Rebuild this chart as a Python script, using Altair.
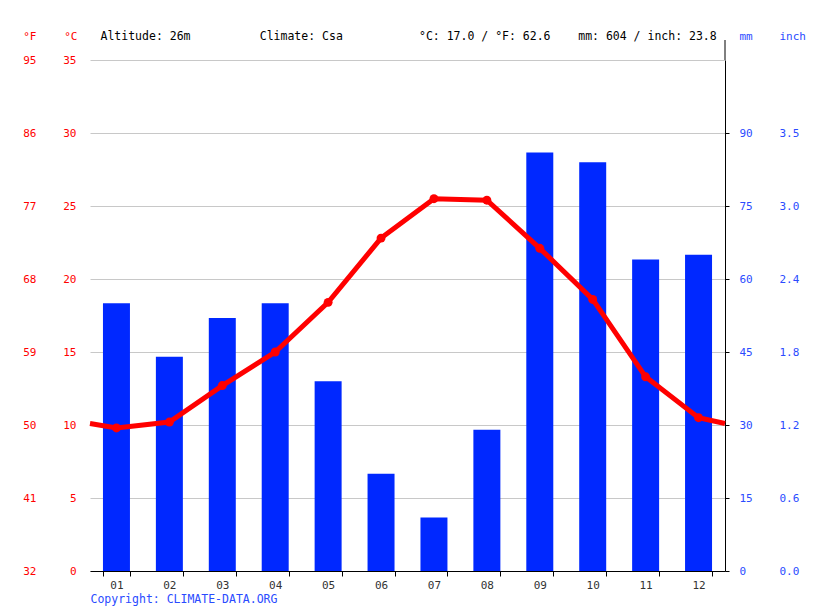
import altair as alt
import pandas as pd

# values
months = ["01", "02", "03", "04", "05", "06", "07", "08", "09", "10", "11", "12"]
temp_c = [9.8, 10.2, 12.7, 15.0, 18.4, 22.8, 25.5, 25.4, 22.1, 18.6, 13.3, 10.5]
precip_mm = [55, 44, 52, 55, 39, 20, 11, 29, 86, 84, 64, 65]
edge_temp = 10.1  # where the line meets the left and right plot edges

c_ticks = [0, 5, 10, 15, 20, 25, 30, 35]
f_labels = ["32", "41", "50", "59", "68", "77", "86", "95"]
mm_ticks = [0, 15, 30, 45, 60, 75, 90]
inch_labels = ["0.0", "0.6", "1.2", "1.8", "2.4", "3.0", "3.5"]

header_items = ["Altitude: 26m", "Climate: Csa", "°C: 17.0 / °F: 62.6", "mm: 604 / inch: 23.8"]

RED = "#ff0000"
BLUE = "#0028ff"
LABEL_BLUE = "#2a4bff"
FONT = "DejaVu Sans Mono"


def label_map(values, labels):
    vals = ",".join(str(v) for v in values)
    labs = ",".join("'" + s + "'" for s in labels)
    return f"[{labs}][indexof([{vals}], datum.value)]"


bars_df = pd.DataFrame({"month": months, "precip": precip_mm})
pos = [i + 1 for i in range(len(months))]
line_df = pd.DataFrame({
    "pos": [0.5] + pos + [len(months) + 0.5],
    "temp": [edge_temp] + temp_c + [edge_temp],
})
points_df = pd.DataFrame({"pos": pos, "temp": temp_c})

x_band = alt.Scale(paddingInner=0.49, paddingOuter=0.245)
x_lin = alt.Scale(domain=[0.5, len(months) + 0.5], nice=False, zero=False)
mm_scale = alt.Scale(domain=[0, 105], nice=False)
c_scale = alt.Scale(domain=[0, 35], nice=False)

# header line: four fixed-width fields in a monospace font
sep = "\u00a0"
header = "".join(s.ljust(23).replace(" ", sep) for s in header_items).rstrip(sep)

bars = alt.Chart(bars_df).mark_bar(color=BLUE).encode(
    x=alt.X(
        "month:O",
        scale=x_band,
        axis=alt.Axis(
            title="Copyright: CLIMATE-DATA.ORG",
            titleColor=LABEL_BLUE, titleFont=FONT, titleFontSize=11.5, titleFontWeight="normal",
            titleX=0, titleY=28, titleAlign="left", titleBaseline="middle",
            labelAngle=0, labelColor="#333333", labelFont=FONT, labelFontSize=11,
            labelPadding=3, tickBand="extent", tickSize=5, tickColor="black",
            domainColor="black", grid=False,
        ),
    ),
    y=alt.Y(
        "precip:Q",
        scale=mm_scale,
        axis=alt.Axis(
            orient="right", values=mm_ticks, grid=False,
            title="mm", titleColor=LABEL_BLUE, titleFont=FONT, titleFontSize=11,
            titleFontWeight="normal", titleAngle=0, titleX=14, titleY=-24,
            titleAlign="left", titleBaseline="middle",
            labelColor=LABEL_BLUE, labelFont=FONT, labelFontSize=11, labelPadding=10,
            domainColor="black", tickColor="black", tickSize=4,
        ),
    ),
)

inch_axis = alt.Chart(bars_df).mark_bar(opacity=0).encode(
    x=alt.X(
        "month:O",
        scale=x_band,
        axis=alt.Axis(
            orient="top", domain=False, ticks=False, labels=False, grid=False,
            title=header, titleColor="black", titleFont=FONT, titleFontSize=11.5,
            titleFontWeight="normal", titleX=10, titleY=-24,
            titleAlign="left", titleBaseline="middle",
        ),
    ),
    y=alt.Y(
        "precip:Q",
        scale=mm_scale,
        axis=alt.Axis(
            orient="right", values=mm_ticks, offset=50, grid=False, domain=False, ticks=False,
            labelExpr=label_map(mm_ticks, inch_labels),
            title="inch", titleColor=LABEL_BLUE, titleFont=FONT, titleFontSize=11,
            titleFontWeight="normal", titleAngle=0, titleX=4, titleY=-24,
            titleAlign="left", titleBaseline="middle",
            labelColor=LABEL_BLUE, labelFont=FONT, labelFontSize=11, labelPadding=4,
        ),
    ),
)

line = alt.Chart(line_df).mark_line(color=RED, strokeWidth=5).encode(
    x=alt.X("pos:Q", scale=x_lin, axis=None),
    y=alt.Y(
        "temp:Q",
        scale=c_scale,
        axis=alt.Axis(
            orient="left", values=c_ticks, grid=True, gridColor="#c8c8c8",
            domain=False, ticks=False,
            title="°C", titleColor=RED, titleFont=FONT, titleFontSize=11,
            titleFontWeight="normal", titleAngle=0, titleX=-13, titleY=-24,
            titleAlign="right", titleBaseline="middle",
            labelColor=RED, labelFont=FONT, labelFontSize=11, labelPadding=14,
        ),
    ),
)

points = alt.Chart(points_df).mark_circle(color=RED, size=80, opacity=1).encode(
    x=alt.X("pos:Q", scale=x_lin, axis=None),
    y=alt.Y(
        "temp:Q",
        scale=c_scale,
        axis=alt.Axis(
            orient="left", values=c_ticks, offset=40, grid=False,
            domain=False, ticks=False,
            labelExpr=label_map(c_ticks, f_labels),
            title="°F", titleColor=RED, titleFont=FONT, titleFontSize=11,
            titleFontWeight="normal", titleAngle=0, titleX=-14, titleY=-24,
            titleAlign="right", titleBaseline="middle",
            labelColor=RED, labelFont=FONT, labelFontSize=11, labelPadding=14,
        ),
    ),
)

# right axis line runs a little above the plot
axis_ext = alt.Chart(pd.DataFrame({"a": [0]})).mark_rule(color="black", strokeWidth=1).encode(
    x=alt.value(635), y=alt.value(-20), y2=alt.value(0)
)

chart = (
    alt.layer(bars, inch_axis, line, points, axis_ext)
    .resolve_scale(x="independent", y="independent")
    .properties(
        width=635,
        height=511,
        autosize=alt.AutoSizeParams(type="none"),
        padding={"left": 82, "top": 52, "right": 82, "bottom": 40},
    )
    .configure_view(stroke=None)
)

chart.save("out.html", embed_options={"renderer": "svg", "actions": False})
